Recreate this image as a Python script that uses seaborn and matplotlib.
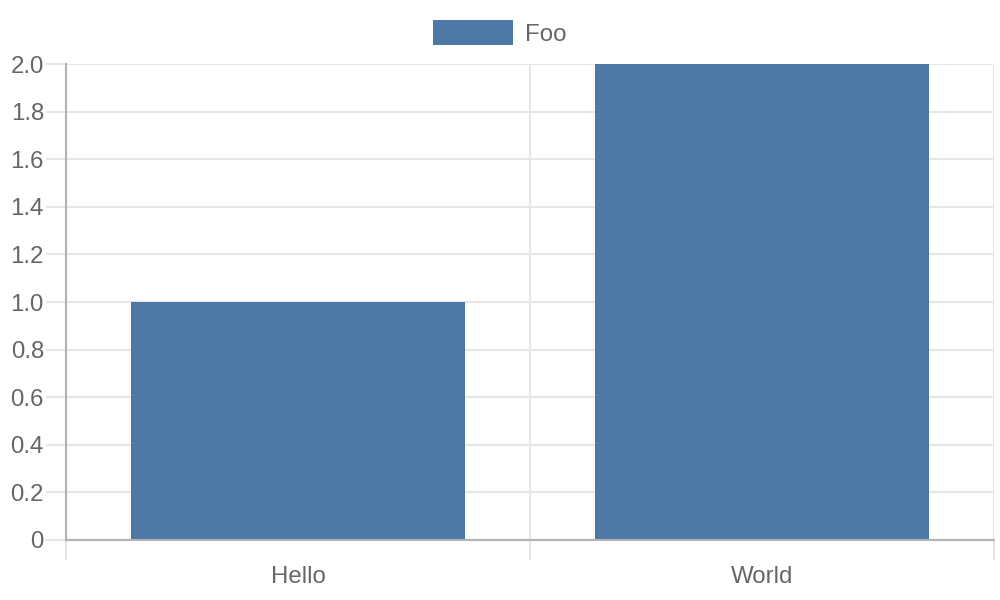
import matplotlib
matplotlib.use("Agg")
import matplotlib.pyplot as plt
import pandas as pd
import seaborn as sns

# Data
categories = ["Hello", "World"]
values = [1, 2]
series_name = "Foo"
y_ticks = [0, 0.2, 0.4, 0.6, 0.8, 1.0, 1.2, 1.4, 1.6, 1.8, 2.0]
y_tick_labels = ["0", "0.2", "0.4", "0.6", "0.8", "1.0", "1.2", "1.4", "1.6", "1.8", "2.0"]

df = pd.DataFrame({"category": categories, "value": values, "series": series_name})

sns.set_theme(style="white")
plt.rcParams["font.family"] = ["Liberation Sans", "DejaVu Sans"]

bar_color = "#4e79a7"
text_color = "#666666"
grid_color = "#e6e6e6"
axis_color = "#b3b3b3"

fig = plt.figure(figsize=(10, 6), dpi=100)
ax = fig.add_axes([0.066, 0.1, 0.928, 0.7933])

sns.barplot(
    data=df, x="category", y="value", hue="series",
    palette={series_name: bar_color}, width=0.72, saturation=1,
    linewidth=0, ax=ax,
)

# -----------------------------------
# Axes styling
# -----------------------------------
ax.set_xlim(-0.5, len(categories) - 0.5)
ax.set_ylim(0, 2.0)
ax.set_xlabel("")
ax.set_ylabel("")

ax.set_yticks(y_ticks)
ax.set_yticklabels(y_tick_labels)
ax.set_xticks(range(len(categories)))
ax.set_xticklabels(categories)
ax.set_xticks([i - 0.5 for i in range(len(categories) + 1)], minor=True)

ax.grid(axis="y", color=grid_color, linewidth=1.5)
ax.grid(axis="x", which="minor", color=grid_color, linewidth=1.5)
ax.set_axisbelow(True)

ax.tick_params(axis="y", length=14.4, width=1.5, color=grid_color,
               labelsize=17.3, labelcolor=text_color, pad=1.5, left=True)
ax.tick_params(axis="x", which="major", length=0, labelsize=17.3,
               labelcolor=text_color, pad=19)
ax.tick_params(axis="x", which="minor", length=14.4, width=1.5,
               color=grid_color, bottom=True)

for side in ["left", "bottom"]:
    ax.spines[side].set_color(axis_color)
    ax.spines[side].set_linewidth(1.5)
for side in ["top", "right"]:
    ax.spines[side].set_visible(False)

# -----------------------------------
# Legend
# -----------------------------------
handles, labels = ax.get_legend_handles_labels()
if ax.get_legend() is not None:
    ax.get_legend().remove()
fig.legend(
    handles, labels, loc="center", bbox_to_anchor=(0.5, 0.945),
    frameon=False, fontsize=17.3, labelcolor=text_color,
    handlelength=3.33, handleheight=1.2, handletextpad=0.5,
)

plt.savefig("out.png", dpi=100)
